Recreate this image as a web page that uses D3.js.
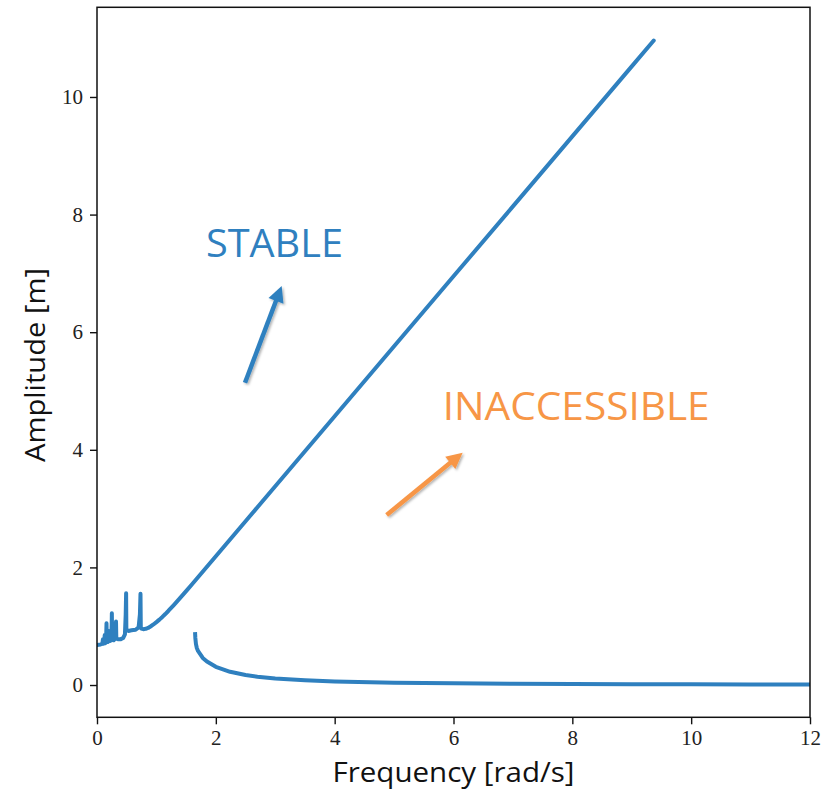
<!DOCTYPE html>
<html>
<head>
<meta charset="utf-8">
<script src="https://cdn.jsdelivr.net/npm/d3@7"></script>
<style>
  html, body { margin: 0; padding: 0; background: #ffffff; }
  svg { display: block; }
</style>
</head>
<body>
<svg id="chart" width="825" height="796"></svg>
<script>
// Upper branch of the frequency response (stable branch with low-frequency resonances)
const upperFreq = [0, 0.06, 0.09, 0.10, 0.105, 0.12, 0.125, 0.13, 0.135, 0.15, 0.155, 0.16, 0.165, 0.18,
  0.19, 0.198, 0.20, 0.205, 0.225, 0.24, 0.248, 0.25, 0.255, 0.28, 0.30, 0.315, 0.32, 0.325, 0.35, 0.40,
  0.44, 0.47, 0.483, 0.49, 0.494, 0.505, 0.53, 0.58, 0.65, 0.70, 0.722, 0.732, 0.737, 0.745,
  0.78, 0.82, 0.86, 0.90, 0.95, 1.0, 1.05, 1.1, 1.15, 1.2, 1.3, 1.4, 1.5, 1.6, 1.8, 2.0, 2.5, 3.0,
  4.0, 5.0, 6.0, 7.0, 8.0, 9.0, 9.37];
const upperAmp = [0.68, 0.69, 0.70, 0.78, 0.70, 0.71, 0.78, 0.85, 0.71, 0.72, 0.85, 1.05, 0.73, 0.73,
  0.74, 0.86, 0.92, 0.75, 0.75, 0.80, 1.05, 1.22, 0.77, 0.76, 0.78, 0.95, 1.08, 0.79, 0.78, 0.78,
  0.80, 0.86, 1.20, 1.56, 0.96, 0.93, 0.92, 0.93, 0.94, 0.98, 1.20, 1.55, 0.98, 0.96,
  0.95, 0.955, 0.97, 0.995, 1.03, 1.07, 1.112, 1.158, 1.207, 1.259, 1.368, 1.481, 1.597, 1.714, 1.952, 2.19, 2.785, 3.38,
  4.57, 5.76, 6.95, 8.14, 9.33, 10.52, 10.96];

// Lower branch, starting at the jump-down frequency
const lowerFreq = [1.65, 1.655, 1.665, 1.68, 1.70, 1.734, 1.78, 1.85, 1.90, 2.0, 2.24, 2.5, 2.7, 3.0,
  3.5, 4.0, 5.0, 6.0, 7.0, 8.0, 9.0, 10.0, 11.0, 12.0];
const lowerAmp = [0.90, 0.80, 0.70, 0.63, 0.58, 0.53, 0.46, 0.40, 0.37, 0.31, 0.225, 0.17, 0.14, 0.11,
  0.08, 0.06, 0.04, 0.03, 0.022, 0.017, 0.013, 0.011, 0.009, 0.008];

const xTicks = [0, 2, 4, 6, 8, 10, 12];
const yTicks = [0, 2, 4, 6, 8, 10];

const blue = "#2f80bf";
const orange = "#f79646";

const svg = d3.select("#chart");
const plot = { left: 97, top: 7.3, right: 810, bottom: 717.3 };

const x = d3.scaleLinear().domain([0, 12]).range([plot.left, plot.right]);
const y = d3.scaleLinear().domain([-0.549, 11.525]).range([plot.bottom, plot.top]);

// clip to axes area
svg.append("defs").append("clipPath").attr("id", "clip")
  .append("rect").attr("x", plot.left).attr("y", plot.top)
  .attr("width", plot.right - plot.left).attr("height", plot.bottom - plot.top);

const shadow = svg.select("defs").append("filter").attr("id", "shadow")
  .attr("x", "-20%").attr("y", "-20%").attr("width", "140%").attr("height", "140%");
shadow.append("feDropShadow").attr("dx", 1.5).attr("dy", 1.5)
  .attr("stdDeviation", 1.2).attr("flood-color", "#000").attr("flood-opacity", 0.3);

const line = d3.line().x(d => x(d[0])).y(d => y(d[1]));

const g = svg.append("g").attr("clip-path", "url(#clip)");
g.append("path")
  .datum(d3.zip(upperFreq, upperAmp))
  .attr("d", line)
  .attr("fill", "none").attr("stroke", blue).attr("stroke-width", 4)
  .attr("stroke-linejoin", "round").attr("stroke-linecap", "round");
g.append("path")
  .datum(d3.zip(lowerFreq, lowerAmp))
  .attr("d", line)
  .attr("fill", "none").attr("stroke", blue).attr("stroke-width", 4)
  .attr("stroke-linejoin", "round").attr("stroke-linecap", "butt");

// axes
const tickFont = "'Liberation Serif', 'DejaVu Serif', serif";
const xAxis = svg.append("g")
  .attr("transform", `translate(0,${plot.bottom})`)
  .call(d3.axisBottom(x).tickValues(xTicks).tickSize(7).tickPadding(6).tickFormat(d3.format("d")));
const yAxis = svg.append("g")
  .attr("transform", `translate(${plot.left},0)`)
  .call(d3.axisLeft(y).tickValues(yTicks).tickSize(7).tickPadding(7).tickFormat(d3.format("d")));
[xAxis, yAxis].forEach(a => {
  a.select(".domain").remove();
  a.selectAll(".tick line").attr("stroke", "#111").attr("stroke-width", 1.4);
  a.selectAll(".tick text").attr("font-family", tickFont).attr("font-size", 21).attr("fill", "#222");
});

// frame
svg.append("rect")
  .attr("x", plot.left).attr("y", plot.top)
  .attr("width", plot.right - plot.left).attr("height", plot.bottom - plot.top)
  .attr("fill", "none").attr("stroke", "#111").attr("stroke-width", 1.5);

// axis titles
const labelFont = "'Open Sans', 'Noto Sans', sans-serif";
svg.append("text")
  .attr("x", (plot.left + plot.right) / 2 + 0).attr("y", 782)
  .attr("text-anchor", "middle")
  .attr("font-family", labelFont).attr("font-size", 28).attr("fill", "#111")
  .attr("textLength", 242).attr("lengthAdjust", "spacingAndGlyphs")
  .text("Frequency [rad/s]");
svg.append("text")
  .attr("transform", `translate(45,${(268 + 462) / 2}) rotate(-90)`)
  .attr("text-anchor", "middle")
  .attr("font-family", labelFont).attr("font-size", 28).attr("fill", "#111")
  .attr("textLength", 194).attr("lengthAdjust", "spacingAndGlyphs")
  .text("Amplitude [m]");

// region annotations
const annoFont = "'Open Sans', Lato, sans-serif";
const notes = [
  { text: "STABLE", color: blue, tx: 1.834, ty: 7.284, width: 137, from: [2.491, 5.141], to: [3.108, 6.786] },
  { text: "INACCESSIBLE", color: orange, tx: 5.818, ty: 4.507, width: 267, from: [4.875, 2.891], to: [6.154, 3.951] }
];

notes.forEach(n => {
  svg.append("text")
    .attr("x", x(n.tx)).attr("y", y(n.ty))
    .attr("font-family", annoFont).attr("font-size", 39).attr("fill", n.color)
    .attr("textLength", n.width).attr("lengthAdjust", "spacingAndGlyphs")
    .text(n.text);

  const x0 = x(n.from[0]), y0 = y(n.from[1]);
  const x1 = x(n.to[0]), y1 = y(n.to[1]);
  const ang = Math.atan2(y1 - y0, x1 - x0);
  const headLen = 16, headHalf = 8;
  const bx = x1 - headLen * Math.cos(ang), by = y1 - headLen * Math.sin(ang);
  const ag = svg.append("g").attr("filter", "url(#shadow)");
  ag.append("line")
    .attr("x1", x0).attr("y1", y0).attr("x2", bx + 2 * Math.cos(ang)).attr("y2", by + 2 * Math.sin(ang))
    .attr("stroke", n.color).attr("stroke-width", 4.5);
  const px = -Math.sin(ang), py = Math.cos(ang);
  ag.append("path")
    .attr("d", `M${x1},${y1}L${bx + headHalf * px},${by + headHalf * py}L${bx - headHalf * px},${by - headHalf * py}Z`)
    .attr("fill", n.color);
});
</script>
</body>
</html>
